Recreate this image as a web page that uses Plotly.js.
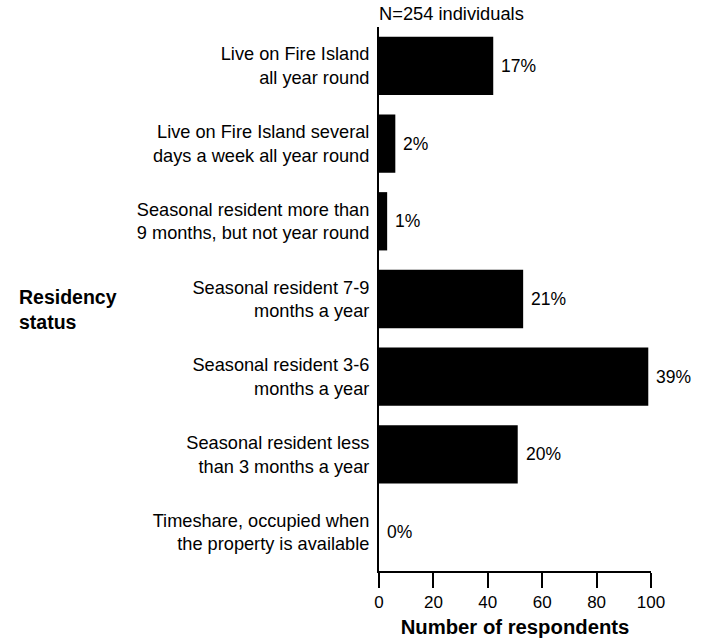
<!DOCTYPE html>
<html>
<head>
<meta charset="utf-8">
<script src="https://cdn.plot.ly/plotly-3.0.1.min.js"></script>
<style>html,body{margin:0;padding:0;background:#fff;}#chart{width:703px;height:644px;}</style>
</head>
<body>
<div id="chart"></div>
<script>
const categories = [
  "Live on Fire Island<br>all year round",
  "Live on Fire Island several<br>days a week all year round",
  "Seasonal resident more than<br>9 months, but not year round",
  "Seasonal resident 7-9<br>months a year",
  "Seasonal resident 3-6<br>months a year",
  "Seasonal resident less<br>than 3 months a year",
  "Timeshare, occupied when<br>the property is available"
];
const counts = [42, 6, 3, 53, 99, 51, 0];
const percentLabels = ["17%", "2%", "1%", "21%", "39%", "20%", "0%"];
const xTicks = [0, 20, 40, 60, 80, 100];

const FONT = "Liberation Sans, Arial, sans-serif";

const trace = {
  type: "bar",
  orientation: "h",
  x: counts,
  y: categories,
  marker: {color: "#000000"},
  width: 0.75,
  hoverinfo: "skip"
};

const annotations = counts.map((v, i) => ({
  x: v, y: categories[i], xref: "x", yref: "y",
  text: percentLabels[i], showarrow: false,
  xanchor: "left", yanchor: "middle", xshift: 6,
  font: {family: FONT, size: 17.5, color: "#000"}
}));
annotations.push({
  text: "<b>Residency<br>status</b>",
  xref: "paper", yref: "paper", x: -362/272, y: 0.48,
  xanchor: "left", yanchor: "middle", align: "left", showarrow: false,
  font: {family: FONT, size: 19.5, color: "#000"}
});

const layout = {
  width: 703, height: 644,
  margin: {l: 379, r: 52, t: 27, b: 73},
  paper_bgcolor: "#fff", plot_bgcolor: "#fff",
  showlegend: false,
  title: {
    text: "N=254 individuals",
    xref: "paper", x: 0, xanchor: "left",
    yref: "container", y: 1 - 14/644, yanchor: "middle",
    font: {family: FONT, size: 18.3, color: "#000"}
  },
  xaxis: {
    range: [0, 100], tickvals: xTicks, ticktext: xTicks.map(String),
    showgrid: false, zeroline: false,
    showline: true, linecolor: "#000", linewidth: 2,
    ticks: "outside", ticklen: 15, tickwidth: 2, tickcolor: "#000",
    tickfont: {family: FONT, size: 17, color: "#000"},
    title: {text: "<b>Number of respondents</b>", standoff: 8,
            font: {family: FONT, size: 20.3, color: "#000"}},
    fixedrange: true
  },
  yaxis: {
    autorange: "reversed", type: "category",
    showgrid: false, zeroline: false,
    showline: true, linecolor: "#000", linewidth: 2,
    ticks: "", ticklabelstandoff: 4,
    tickfont: {family: FONT, size: 18.2, color: "#000"},
    fixedrange: true
  },
  annotations: annotations
};

Plotly.newPlot("chart", [trace], layout, {displayModeBar: false, staticPlot: true});
</script>
</body>
</html>
